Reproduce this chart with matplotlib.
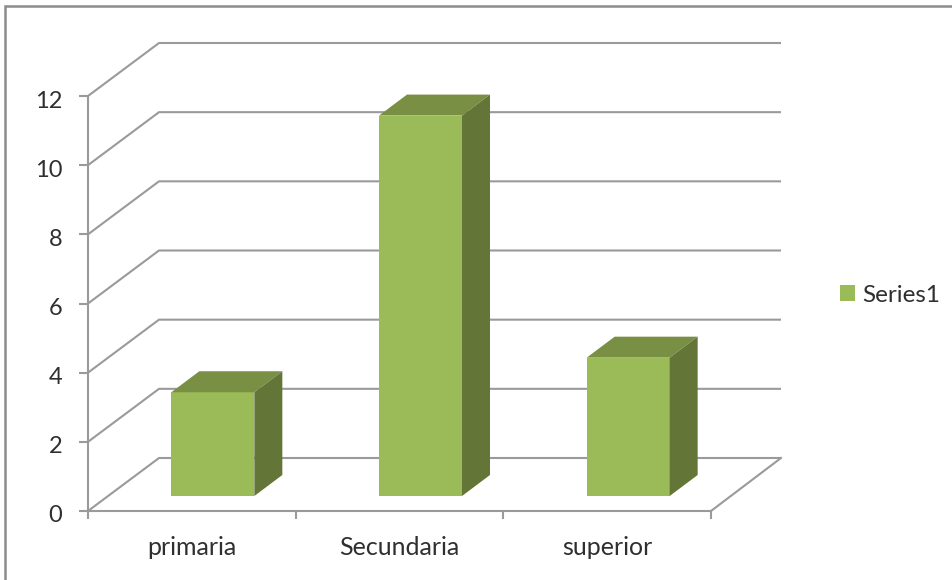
import matplotlib
matplotlib.use('Agg')
import matplotlib.pyplot as plt
from matplotlib.patches import Polygon, Rectangle
from matplotlib.transforms import ScaledTranslation

categories = ['primaria', 'Secundaria', 'superior']
values = [3, 11, 4]
y_ticks = [0, 2, 4, 6, 8, 10, 12]
series_name = 'Series1'

W, H = 953, 580
FRONT = '#9bbb59'
TOP = '#798f44'
SIDE = '#647637'
GRID = '#9a9a9a'
TEXT = '#2f2f2f'

plt.rcParams['font.family'] = ['Lato', 'DejaVu Sans']

fig = plt.figure(figsize=(W / 100, H / 100), dpi=100, facecolor='white')

# outer chart border, it runs off the right and bottom edge
fig.add_artist(Rectangle((5.5 / W, -0.05), 1.1, 1.05 - 6 / H, transform=fig.transFigure,
                         fill=False, ec='#8c8c8c', lw=1.8))

# axes box is the front plane of the chart
ax = fig.add_axes([88 / W, 1 - 511 / H, (711 - 88) / W, (511 - 96) / H])
ax.set_xlim(0, 3)
ax.set_ylim(0, 12)
ax.patch.set_alpha(0)

unit_x = (711 - 88) / 3
unit_y = (511 - 96) / 12

# depth of the floor/back wall
wall_dx = 71 / unit_x
wall_dy = 53 / unit_y
# depth of the bars and where they stand on the floor
bar_dx = 28 / unit_x
bar_dy = 21 / unit_y
bar_bottom = 15 / unit_y
bar_width = 83 / unit_x
bar_shift = 21 / unit_x

# gridlines go back from the axis then across the wall
for t in y_ticks:
    ax.plot([0, wall_dx, 3 + wall_dx - 1 / unit_x], [t, t + wall_dy, t + wall_dy],
            color=GRID, lw=1.5, clip_on=False, zorder=1, solid_joinstyle='miter', solid_capstyle='butt')
# right edge of the floor
ax.plot([3, 3 + wall_dx - 1 / unit_x], [0, wall_dy], color=GRID, lw=1.5, clip_on=False, zorder=1)

xs = [i + 0.5 for i in range(len(categories))]
bar_xs = [x + bar_shift for x in xs]
ax.bar(bar_xs, values, width=bar_width, bottom=bar_bottom, color=FRONT, zorder=3, label=series_name)
for x, v in zip(bar_xs, values):
    left = x - bar_width / 2
    right = x + bar_width / 2
    top = v + bar_bottom
    ax.add_patch(Polygon([(left, top), (right, top), (right + bar_dx, top + bar_dy), (left + bar_dx, top + bar_dy)],
                         closed=True, fc=TOP, ec='none', zorder=3, clip_on=False))
    ax.add_patch(Polygon([(right, bar_bottom), (right + bar_dx, bar_bottom + bar_dy),
                          (right + bar_dx, top + bar_dy), (right, top)],
                         closed=True, fc=SIDE, ec='none', zorder=3, clip_on=False))

for s in ['top', 'right']:
    ax.spines[s].set_visible(False)
for s in ['left', 'bottom']:
    ax.spines[s].set_color(GRID)
    ax.spines[s].set_linewidth(1.5)

ax.set_yticks(y_ticks)
ax.set_xticks([0, 1, 2, 3])
ax.set_xticklabels([])
ax.set_xticks(xs, labels=categories, minor=True)
ax.tick_params(axis='y', length=6.5, width=1.5, color=GRID, labelsize=17, labelcolor=TEXT, pad=12)
ax.tick_params(axis='x', which='major', length=6, width=1.5, color=GRID)
ax.tick_params(axis='x', which='minor', length=0, labelsize=18, labelcolor=TEXT, pad=18)

# y labels sit a little under their ticks
nudge = ScaledTranslation(0, -3 / 100, fig.dpi_scale_trans)
for label in ax.get_yticklabels():
    label.set_transform(label.get_transform() + nudge)

leg = ax.legend(loc='center left', bbox_to_anchor=(840 / W, 1 - 295 / H), bbox_transform=fig.transFigure,
                frameon=False, fontsize=17.5, labelcolor=TEXT, handlelength=0.62, handleheight=0.62,
                handletextpad=0.3, borderpad=0, borderaxespad=0)

fig.savefig('out.png', dpi=100)
